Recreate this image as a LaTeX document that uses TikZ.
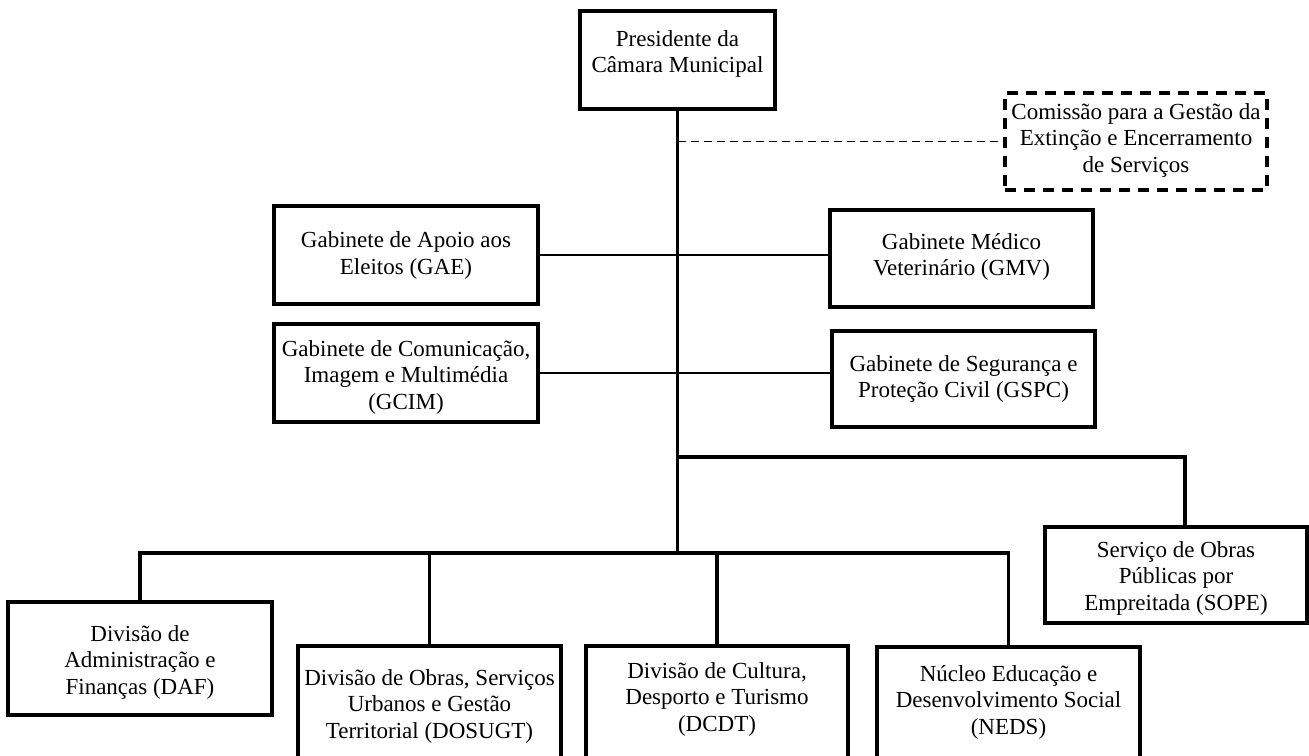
\documentclass[tikz,border=0pt]{standalone}
\usepackage{fontspec}
\setmainfont{Liberation Serif}
\begin{document}
\begin{tikzpicture}[x=1pt,y=-1pt,
  box/.style={draw, line width=3.3pt, inner sep=0pt, rectangle},
  dbox/.style={box, dash pattern=on 11pt off 8pt},
  lbl/.style={align=center, inner sep=0pt, font=\fontsize{23}{26.5}\selectfont},
  thickline/.style={line width=3.3pt},
  thinline/.style={line width=1.7pt},
  dashline/.style={line width=1.7pt, dash pattern=on 8pt off 5pt}]
\useasboundingbox (0,0) rectangle (1309,755);
\clip (0,0) rectangle (1309,755);
% boxes
\node[box, minimum width=195pt, minimum height=98pt] (pres) at (677.5,60) {};
\node[dbox, minimum width=262pt, minimum height=97pt] (com) at (1136,141.5) {};
\node[box, minimum width=264pt, minimum height=98pt] (gae) at (406,255) {};
\node[box, minimum width=263pt, minimum height=97pt] (gmv) at (961.5,258.5) {};
\node[box, minimum width=264pt, minimum height=98pt] (gcim) at (406,373) {};
\node[box, minimum width=263pt, minimum height=96pt] (gspc) at (963.5,379) {};
\node[box, minimum width=262pt, minimum height=96pt] (sope) at (1176,575) {};
\node[box, minimum width=264pt, minimum height=113pt] (daf) at (140,658.5) {};
\node[box, minimum width=263pt, minimum height=124pt] (dosugt) at (429.5,708) {};
\node[box, minimum width=262pt, minimum height=124pt] (dcdt) at (717,708) {};
\node[box, minimum width=263pt, minimum height=123pt] (neds) at (1008.5,708.5) {};
% texts
\node[lbl] (tpres) at (677.5,54) {Presidente da\\Câmara Municipal};
\node[lbl] (tcom) at (1136,140) {Comissão para a Gestão da\\Extinção e Encerramento\\de Serviços};
\node[lbl] (tgae) at (406,255.5) {Gabinete de Apoio aos\\Eleitos (GAE)};
\node[lbl] (tgmv) at (961.5,257) {Gabinete Médico\\Veterinário (GMV)};
\node[lbl] (tgcim) at (406,377) {Gabinete de Comunicação,\\Imagem e Multimédia\\(GCIM)};
\node[lbl] (tgspc) at (963.5,379) {Gabinete de Segurança e\\Proteção Civil (GSPC)};
\node[lbl] (tsope) at (1176,578) {Serviço de Obras\\Públicas por\\Empreitada (SOPE)};
\node[lbl] (tdaf) at (140,662) {Divisão de\\Administração e\\Finanças (DAF)};
\node[lbl] (tdosugt) at (429.5,706) {Divisão de Obras, Serviços\\Urbanos e Gestão\\Territorial (DOSUGT)};
\node[lbl] (tdcdt) at (717,699) {Divisão de Cultura,\\Desporto e Turismo\\(DCDT)};
\node[lbl] (tneds) at (1008.5,702) {Núcleo Educação e\\Desenvolvimento Social\\(NEDS)};
% junction coordinates
\coordinate (jcom) at (677.5,141.5);
\coordinate (jsope) at (677.5,457);
\coordinate (bus) at (677.5,553);
% connectors
\draw[thickline] (pres.south) -- (bus);
\draw[dashline] (jcom) -- (com.west);
\draw[thinline] (gae.east) -- (gae.east -| gmv.west);
\draw[thinline] (gcim.east) -- (gcim.east -| gspc.west);
\draw[thickline] (jsope) -| ([xshift=9pt]sope.north);
\draw[thickline] (bus) -| (daf.north);
\draw[thickline] (bus) -| (dosugt.north);
\draw[thickline] (bus) -| (dcdt.north);
\draw[thickline] (bus) -| (neds.north);
\end{tikzpicture}
\end{document}
